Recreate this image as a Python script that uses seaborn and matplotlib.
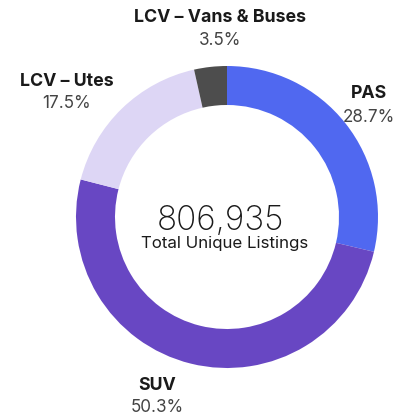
import matplotlib.pyplot as plt
import seaborn as sns

categories = ["PAS", "SUV", "LCV – Utes", "LCV – Vans & Buses"]
shares = [28.7, 50.3, 17.5, 3.5]
share_labels = ["28.7%", "50.3%", "17.5%", "3.5%"]
total_listings = "806,935"
total_caption = "Total Unique Listings"

colors = ["#5068F0", "#6847C3", "#DDD6F5", "#4D4D4D"]

# pixel positions of the labels (x, baseline of name, baseline of share)
label_pos = {
    "PAS": (369, 98, 122),
    "SUV": (157, 390, 412),
    "LCV – Utes": (67, 86, 108),
    "LCV – Vans & Buses": (220, 22, 45),
}

W, H = 410, 419

sns.set_theme(style="white")
plt.rcParams["font.family"] = ["Inter", "DejaVu Sans"]

fig = plt.figure(figsize=(W / 100, H / 100), dpi=100)
ax = fig.add_axes([0, 0, 1, 1])

ax.pie(shares, colors=colors, startangle=90, counterclock=False,
       center=(227, H - 217), radius=151,
       wedgeprops=dict(width=39, linewidth=0))

for cat, lab in zip(categories, share_labels):
    x, y1, y2 = label_pos[cat]
    ax.text(x, H - y1, cat, ha="center", va="baseline", fontsize=12.8,
            fontweight="bold", color="#1a1a1a")
    ax.text(x, H - y2, lab, ha="center", va="baseline", fontsize=12.3,
            color="#444444")

ax.text(220, H - 230, total_listings, ha="center", va="baseline",
        fontsize=24, fontweight="light", color="#1a1a1a")
ax.text(225, H - 248, total_caption, ha="center", va="baseline",
        fontsize=12.2, color="#1a1a1a")

ax.set_xlim(0, W)
ax.set_ylim(0, H)
ax.set_aspect("equal")
ax.axis("off")

fig.savefig("out.png", dpi=100, facecolor="white")
plt.close(fig)
